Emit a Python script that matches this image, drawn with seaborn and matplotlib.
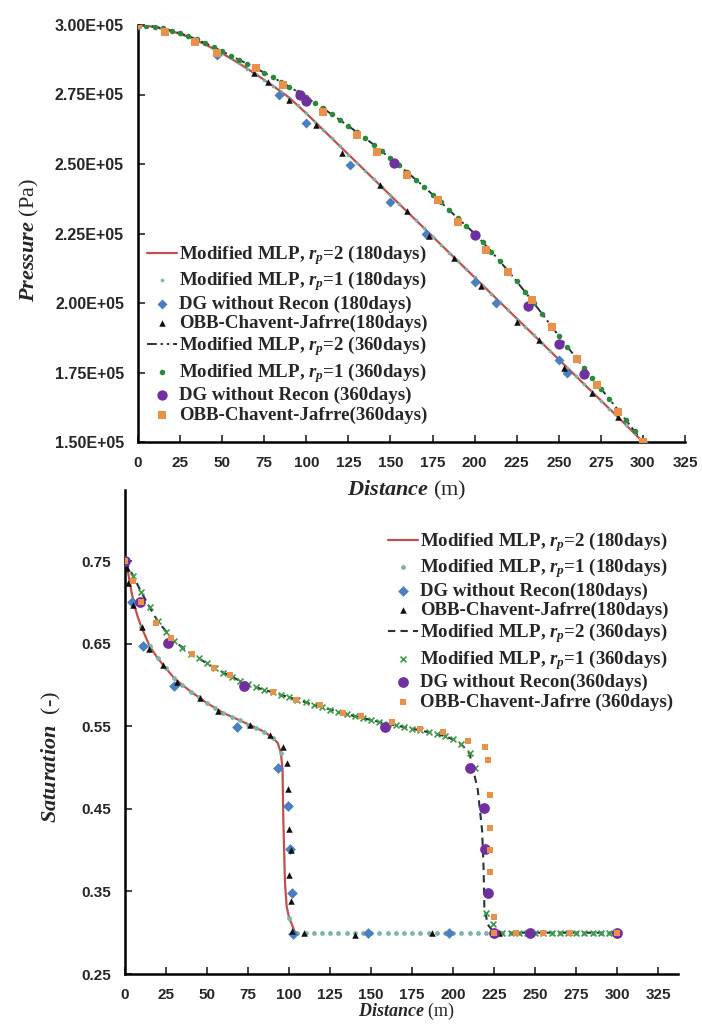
import numpy as np
import matplotlib
matplotlib.use("Agg")
import matplotlib.pyplot as plt
import seaborn as sns

# ---------------- data: pressure (top) ----------------
x10 = [0, 10, 20, 30, 40, 50, 60, 70, 80, 90, 100, 110, 120, 130, 140, 150,
       160, 170, 180, 190, 200, 210, 220, 230, 240, 250, 260, 270, 280, 290, 300]
p180_rp2 = [3.000, 2.993, 2.978, 2.957, 2.930, 2.898, 2.862, 2.823, 2.782, 2.738,
            2.682, 2.623, 2.564, 2.505, 2.446, 2.387, 2.328, 2.269, 2.210, 2.151,
            2.092, 2.033, 1.974, 1.915, 1.856, 1.797, 1.738, 1.679, 1.620, 1.561, 1.500]
p360_rp2 = [3.000, 2.994, 2.980, 2.960, 2.935, 2.905, 2.875, 2.845, 2.812, 2.778,
            2.740, 2.700, 2.658, 2.615, 2.570, 2.520, 2.470, 2.418, 2.362, 2.305,
            2.250, 2.185, 2.115, 2.040, 1.962, 1.882, 1.805, 1.730, 1.655, 1.578, 1.500]

x5 = [0, 5, 10, 15, 20, 25, 30, 35, 40, 45, 50, 55, 60, 65, 70, 75, 80, 85, 90, 95,
      100, 105, 110, 115, 120, 125, 130, 135, 140, 145, 150, 155, 160, 165, 170, 175,
      180, 185, 190, 195, 200, 205, 210, 215, 220, 225, 230, 235, 240, 245, 250, 255,
      260, 265, 270, 275, 280, 285, 290, 295, 300]
p180_rp1 = [3.000, 2.998, 2.993, 2.986, 2.978, 2.968, 2.957, 2.944, 2.930, 2.914,
            2.898, 2.880, 2.862, 2.843, 2.823, 2.803, 2.782, 2.760, 2.738, 2.712,
            2.682, 2.652, 2.623, 2.593, 2.564, 2.534, 2.505, 2.475, 2.446, 2.416,
            2.387, 2.357, 2.328, 2.298, 2.269, 2.239, 2.210, 2.180, 2.151, 2.121,
            2.092, 2.062, 2.033, 2.003, 1.974, 1.944, 1.915, 1.885, 1.856, 1.826,
            1.797, 1.767, 1.738, 1.708, 1.679, 1.649, 1.620, 1.590, 1.561, 1.531, 1.500]
p360_rp1 = [3.000, 2.998, 2.994, 2.988, 2.980, 2.971, 2.960, 2.948, 2.935, 2.920,
            2.905, 2.890, 2.875, 2.860, 2.845, 2.829, 2.812, 2.795, 2.778, 2.759,
            2.740, 2.720, 2.700, 2.679, 2.658, 2.637, 2.615, 2.593, 2.570, 2.545,
            2.520, 2.495, 2.470, 2.444, 2.418, 2.390, 2.362, 2.334, 2.305, 2.278,
            2.250, 2.218, 2.185, 2.150, 2.115, 2.078, 2.040, 2.001, 1.962, 1.922,
            1.882, 1.843, 1.805, 1.767, 1.730, 1.692, 1.655, 1.616, 1.578, 1.539, 1.500]

dg180_px = [0, 47, 84, 100, 126, 150, 171, 200, 213, 250, 255, 300]
dg180_p = [3.000, 2.892, 2.748, 2.647, 2.496, 2.363, 2.250, 2.075, 2.000, 1.795, 1.748, 1.500]
obb180_px = [69, 77, 90, 106, 121, 144, 160, 173, 188, 204, 225, 238, 253, 270, 285]
obb180_p = [2.827, 2.795, 2.730, 2.640, 2.540, 2.424, 2.330, 2.240, 2.162, 2.060,
            1.930, 1.867, 1.766, 1.676, 1.590]
dg360_px = [96, 100, 152, 200, 232, 250, 265]
dg360_p = [2.748, 2.728, 2.503, 2.245, 1.990, 1.853, 1.745]
obb360_px = [0, 16, 34, 47, 70, 86, 110, 130, 142, 160, 178, 190, 207, 220, 234,
             246, 261, 273, 285, 300]
obb360_p = [3.000, 2.975, 2.940, 2.900, 2.845, 2.784, 2.687, 2.604, 2.543, 2.460,
            2.370, 2.290, 2.190, 2.112, 2.010, 1.914, 1.800, 1.705, 1.608, 1.500]

# ---------------- data: saturation (bottom) ----------------
xs_red = [0, 2, 4, 6, 8, 10, 15, 20, 25, 30, 40, 50, 60, 70, 80, 85, 90, 93, 95, 96,
          96.5, 97.5, 98.5, 100, 101.5, 103.5, 105]
s180_rp2 = [0.750, 0.735, 0.712, 0.694, 0.681, 0.670, 0.647, 0.632, 0.620, 0.608,
            0.592, 0.578, 0.566, 0.557, 0.548, 0.543, 0.536, 0.530, 0.518, 0.497,
            0.436, 0.360, 0.332, 0.318, 0.311, 0.301, 0.300]
s180_rp1 = [0.750, 0.702, 0.670, 0.647, 0.632, 0.620, 0.608, 0.600, 0.592, 0.585,
            0.578, 0.572, 0.566, 0.561, 0.557, 0.552, 0.548, 0.543, 0.536, 0.518,
            0.318, 0.300, 0.300, 0.300, 0.300, 0.300, 0.300, 0.300, 0.300, 0.300,
            0.300, 0.300, 0.300, 0.300, 0.300, 0.300, 0.300, 0.300, 0.300, 0.300,
            0.300, 0.300, 0.300, 0.300, 0.300, 0.300, 0.300, 0.300, 0.300, 0.300,
            0.300, 0.300, 0.300, 0.300, 0.300, 0.300, 0.300, 0.300, 0.300, 0.300, 0.300]
xs_dash = [0, 5, 10, 15, 20, 30, 40, 50, 60, 70, 80, 90, 100, 120, 140, 160, 180,
           195, 200, 205, 210, 212, 215, 217.6, 218.5, 219, 221, 225, 240, 260, 280, 300]
s360_rp2 = [0.750, 0.732, 0.712, 0.694, 0.677, 0.653, 0.638, 0.626, 0.615, 0.605,
            0.597, 0.591, 0.585, 0.573, 0.562, 0.553, 0.545, 0.538, 0.534, 0.528,
            0.517, 0.499, 0.473, 0.424, 0.380, 0.331, 0.310, 0.300, 0.300, 0.300,
            0.300, 0.300]
xs_green = [0, 5, 10, 15, 20, 25, 30, 35, 40, 45, 50, 55, 60, 65, 70, 75, 80, 85, 90,
            95, 100, 105, 110, 115, 120, 125, 130, 135, 140, 145, 150, 155, 160, 165,
            170, 175, 180, 185, 190, 195, 200, 205, 210, 213, 220, 224, 225, 230, 235,
            240, 245, 250, 255, 260, 265, 270, 275, 280, 285, 290, 295, 300]
s360_rp1 = [0.750, 0.732, 0.712, 0.694, 0.677, 0.664, 0.653, 0.645, 0.638, 0.632,
            0.626, 0.620, 0.615, 0.610, 0.605, 0.601, 0.597, 0.594, 0.591, 0.588,
            0.585, 0.582, 0.579, 0.576, 0.573, 0.570, 0.567, 0.565, 0.562, 0.560,
            0.557, 0.555, 0.553, 0.551, 0.549, 0.547, 0.545, 0.543, 0.541, 0.538,
            0.534, 0.528, 0.517, 0.500, 0.324, 0.310, 0.300, 0.300, 0.300, 0.300,
            0.300, 0.300, 0.300, 0.300, 0.300, 0.300, 0.300, 0.300, 0.300, 0.300,
            0.300, 0.300]
dg180_sx = [0, 4, 11, 30, 68, 93.5, 99.6, 100.6, 101.6, 102.6, 148, 197.6]
dg180_s = [0.750, 0.700, 0.647, 0.599, 0.549, 0.500, 0.453, 0.401, 0.348, 0.299, 0.300, 0.300]
obb180_sx = [1.5, 2, 5, 10.2, 14.8, 23.4, 31.5, 45.7, 56.9, 76.2, 88.4, 96.5, 99, 99.6,
             100.2, 101, 100.2, 101, 101.6, 109, 140, 187, 228]
obb180_s = [0.742, 0.723, 0.697, 0.670, 0.644, 0.624, 0.604, 0.584, 0.569, 0.551,
            0.539, 0.525, 0.506, 0.474, 0.425, 0.400, 0.370, 0.338, 0.302, 0.300,
            0.297, 0.300, 0.300]
dg360_sx = [0, 9, 26.4, 72.7, 158.5, 210, 218.5, 219.5, 221.5, 224.6, 247, 300]
dg360_s = [0.750, 0.701, 0.651, 0.599, 0.549, 0.500, 0.451, 0.401, 0.348, 0.300, 0.300, 0.300]
obb360_sx = [0, 5, 10, 19, 28, 41, 54, 64, 90, 104, 119, 133, 144, 163, 180, 194, 209,
             219.5, 221.5, 222.6, 222.6, 222.6, 222.6, 224.6, 224.6, 238, 255, 271, 300]
obb360_s = [0.750, 0.726, 0.701, 0.675, 0.657, 0.638, 0.620, 0.612, 0.592, 0.582,
            0.576, 0.566, 0.562, 0.555, 0.547, 0.543, 0.532, 0.525, 0.509, 0.467,
            0.427, 0.400, 0.374, 0.319, 0.300, 0.300, 0.300, 0.300, 0.300]

# ---------------- ticks & labels ----------------
x_ticks = [0, 25, 50, 75, 100, 125, 150, 175, 200, 225, 250, 275, 300, 325]
x_tick_labels = ["0", "25", "50", "75", "100", "125", "150", "175", "200", "225",
                 "250", "275", "300", "325"]
p_ticks = [1.50e5, 1.75e5, 2.00e5, 2.25e5, 2.50e5, 2.75e5, 3.00e5]
p_tick_labels = ["1.50E+05", "1.75E+05", "2.00E+05", "2.25E+05", "2.50E+05",
                 "2.75E+05", "3.00E+05"]
s_ticks = [0.25, 0.35, 0.45, 0.55, 0.65, 0.75]
s_tick_labels = ["0.25", "0.35", "0.45", "0.55", "0.65", "0.75"]

top_labels = [r"Modified MLP, $r_p$=2 (180days)", r"Modified MLP, $r_p$=1 (180days)",
              "DG without Recon (180days)", "OBB-Chavent-Jafrre(180days)",
              r"Modified MLP, $r_p$=2 (360days)", r"Modified MLP, $r_p$=1 (360days)",
              "DG without Recon (360days)", "OBB-Chavent-Jafrre(360days)"]
bot_labels = [r"Modified MLP, $r_p$=2 (180days)", r"Modified MLP, $r_p$=1 (180days)",
              "DG without Recon(180days)", "OBB-Chavent-Jafrre(180days)",
              r"Modified MLP, $r_p$=2 (360days)", r"Modified MLP, $r_p$=1 (360days)",
              "DG without Recon(360days)", "OBB-Chavent-Jafrre (360days)"]

# ---------------- style ----------------
sns.set_style("ticks")
plt.rcParams.update({
    "font.family": ["Liberation Serif", "DejaVu Serif"],
    "mathtext.fontset": "custom",
    "mathtext.rm": "Liberation Serif:bold",
    "mathtext.it": "Liberation Serif:italic:bold",
    "mathtext.bf": "Liberation Serif:bold",
})

RED = "#c0504d"
TEAL = "#7fb3a9"
BLUE = "#4a7fc0"
BLACK = "#111111"
DARK = "#27323f"
GREEN = "#2b8a3a"
GREENX = "#3d9a48"
PURPLE = "#7030a0"
ORANGE = "#e8914a"

fig = plt.figure(figsize=(7.02, 10.29), dpi=100)
ax1 = fig.add_axes([138 / 702, 1 - 442 / 1029, (685 - 138) / 702, (442 - 25) / 1029])
ax2 = fig.add_axes([125 / 702, 1 - 974 / 1029, (678 - 125) / 702, (974 - 490) / 1029])

E5 = 1e5
# ----- top plot -----
sns.lineplot(x=x10, y=np.array(p180_rp2) * E5, ax=ax1, color=RED, linewidth=1.6,
             estimator=None, sort=False, label=top_labels[0], zorder=2)
sns.lineplot(x=x10, y=np.array(p360_rp2) * E5, ax=ax1, color=DARK, linewidth=1.4,
             estimator=None, sort=False, label=top_labels[4], zorder=2,
             linestyle=(0, (5, 2, 1.2, 2, 1.2, 2)))
sns.scatterplot(x=x5, y=np.array(p180_rp1) * E5, ax=ax1, color=TEAL, s=7, marker="o",
                linewidth=0, label=top_labels[1], zorder=3)
sns.scatterplot(x=x5, y=np.array(p360_rp1) * E5, ax=ax1, color=GREEN, s=16, marker="o",
                linewidth=0, label=top_labels[5], zorder=3)
sns.scatterplot(x=dg180_px, y=np.array(dg180_p) * E5, ax=ax1, color=BLUE, s=26, marker="D",
                linewidth=0, label=top_labels[2], zorder=4)
sns.scatterplot(x=obb180_px, y=np.array(obb180_p) * E5, ax=ax1, color=BLACK, s=22, marker="^",
                linewidth=0, label=top_labels[3], zorder=4)
sns.scatterplot(x=dg360_px, y=np.array(dg360_p) * E5, ax=ax1, color=PURPLE, s=55, marker="o",
                linewidth=0, label=top_labels[6], zorder=4)
sns.scatterplot(x=obb360_px, y=np.array(obb360_p) * E5, ax=ax1, color=ORANGE, s=26, marker="s",
                linewidth=0, label=top_labels[7], zorder=5)

# ----- bottom plot -----
sns.lineplot(x=xs_red, y=s180_rp2, ax=ax2, color=RED, linewidth=1.6,
             estimator=None, sort=False, label=bot_labels[0], zorder=2)
sns.lineplot(x=xs_dash, y=s360_rp2, ax=ax2, color=DARK, linewidth=1.5,
             estimator=None, sort=False, label=bot_labels[4], zorder=2,
             linestyle=(0, (3.5, 2.5)))
sns.scatterplot(x=x5, y=s180_rp1, ax=ax2, color=TEAL, s=12, marker="o",
                linewidth=0, label=bot_labels[1], zorder=3)
sns.scatterplot(x=xs_green, y=s360_rp1, ax=ax2, color=GREENX, s=18, marker="x",
                linewidth=1.2, label=bot_labels[5], zorder=3)
sns.scatterplot(x=dg180_sx, y=dg180_s, ax=ax2, color=BLUE, s=30, marker="D",
                linewidth=0, label=bot_labels[2], zorder=4)
sns.scatterplot(x=obb180_sx, y=obb180_s, ax=ax2, color=BLACK, s=22, marker="^",
                linewidth=0, label=bot_labels[3], zorder=4)
sns.scatterplot(x=dg360_sx, y=dg360_s, ax=ax2, color=PURPLE, s=60, marker="o",
                linewidth=0, label=bot_labels[6], zorder=4)
sns.scatterplot(x=obb360_sx, y=obb360_s, ax=ax2, color=ORANGE, s=24, marker="s",
                linewidth=0, label=bot_labels[7], zorder=5)

# ----- axes formatting -----
tick_font = dict(fontfamily="Liberation Sans", fontweight="bold", color="#262626")
for ax in (ax1, ax2):
    sns.despine(ax=ax)
    for sp in ("left", "bottom"):
        ax.spines[sp].set_linewidth(1.8)
        ax.spines[sp].set_color("black")
    ax.tick_params(direction="in", length=5, width=1.2, pad=10)
    ax.set_xlabel("")
    ax.set_ylabel("")

ax1.set_xlim(0, 325)
ax1.set_ylim(1.5e5, 3.0e5)
ax1.set_xticks(x_ticks)
ax1.set_xticklabels(x_tick_labels, fontsize=11, **tick_font)
ax1.set_yticks(p_ticks)
ax1.set_yticklabels(p_tick_labels, fontsize=11.5, **tick_font)

ax2.set_xlim(0, 337)
ax2.set_ylim(0.25, 0.836)
ax2.set_xticks(x_ticks)
ax2.set_xticklabels(x_tick_labels, fontsize=11, **tick_font)
ax2.set_yticks(s_ticks)
ax2.set_yticklabels(s_tick_labels, fontsize=11, **tick_font)

# ----- legends -----
leg_kw = dict(frameon=False, borderpad=0, borderaxespad=0, handlelength=1.6,
              handletextpad=0.12, labelspacing=0.12,
              prop={"family": "Liberation Serif", "weight": "bold", "size": 13.6},
              bbox_transform=fig.transFigure, loc="upper left", markerscale=1.0)

def ordered(ax, labels):
    h, l = ax.get_legend_handles_labels()
    d = dict(zip(l, h))
    return [d[k] for k in labels], labels

h1, l1 = ordered(ax1, top_labels)
ax1.legend(h1, l1, bbox_to_anchor=(147 / 702, 1 - 243 / 1029), **leg_kw)
h2, l2 = ordered(ax2, bot_labels)
ax2.legend(h2, l2, bbox_to_anchor=(388 / 702, 1 - 530 / 1029), **leg_kw)

# ----- axis titles -----
fig.text(407 / 702, 1 - 490 / 1029, r"$Distance$ (m)", ha="center", va="center",
         fontsize=16, family="Liberation Serif")
fig.text(29 / 702, 1 - 240 / 1029, r"$Pressure$ (Pa)", ha="center", va="center",
         rotation=90, fontsize=16, family="Liberation Serif")
fig.text(406 / 702, 1 - 1011 / 1029, r"$Distance$ (m)", ha="center", va="center",
         fontsize=13, family="Liberation Serif")
fig.text(51 / 702, 1 - 757 / 1029, r"$Saturation$  (-)", ha="center", va="center",
         rotation=90, fontsize=16, family="Liberation Serif")

fig.savefig("out.png", dpi=100)
